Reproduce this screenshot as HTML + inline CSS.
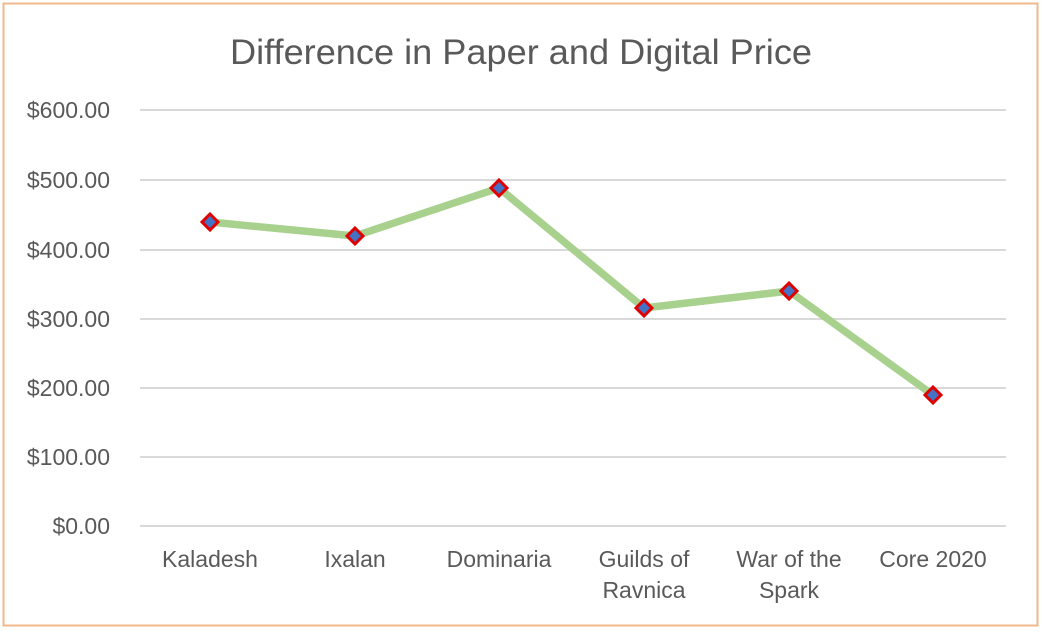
<!DOCTYPE html>
<html><head><style>
body{margin:0;background:#fff;}
svg text{font-family:"Liberation Sans",sans-serif;}
</style></head><body>
<svg width="1042" height="630" xmlns="http://www.w3.org/2000/svg">
<rect x="0" y="0" width="1042" height="630" fill="#fff"/>
<rect x="3.5" y="3.5" width="1034" height="622" fill="none" stroke="#f0b88c" stroke-width="2"/>
<text x="230" y="64" textLength="582" lengthAdjust="spacingAndGlyphs" font-size="35" fill="#595959">Difference in Paper and Digital Price</text>
<g stroke="#d9d9d9" stroke-width="2">
<line x1="140" x2="1006" y1="110" y2="110"/>
<line x1="140" x2="1006" y1="180" y2="180"/>
<line x1="140" x2="1006" y1="250" y2="250"/>
<line x1="140" x2="1006" y1="319" y2="319"/>
<line x1="140" x2="1006" y1="388" y2="388"/>
<line x1="140" x2="1006" y1="457" y2="457"/>
<line x1="140" x2="1006" y1="526" y2="526"/>
</g>
<g font-size="23" fill="#595959" text-anchor="end">
<text x="110" y="118">$600.00</text>
<text x="110" y="188">$500.00</text>
<text x="110" y="258">$400.00</text>
<text x="110" y="327">$300.00</text>
<text x="110" y="396">$200.00</text>
<text x="110" y="465">$100.00</text>
<text x="110" y="534">$0.00</text>
</g>
<g font-size="23" fill="#595959" text-anchor="middle">
<text x="210" y="567">Kaladesh</text>
<text x="355" y="567">Ixalan</text>
<text x="499" y="567">Dominaria</text>
<text x="644" y="567">Guilds of</text>
<text x="644" y="598">Ravnica</text>
<text x="789" y="567">War of the</text>
<text x="789" y="598">Spark</text>
<text x="933" y="567">Core 2020</text>
</g>
<polyline points="210,222 355,236 499,188 644,308 789,291 933,395" fill="none" stroke="#a9d18e" stroke-width="7.5" stroke-linejoin="round"/>
<g fill="#4472c4" stroke="#e00000" stroke-width="3">
<path d="M210,214 l8,8 l-8,8 l-8,-8z"/>
<path d="M355,228 l8,8 l-8,8 l-8,-8z"/>
<path d="M499,180 l8,8 l-8,8 l-8,-8z"/>
<path d="M644,300 l8,8 l-8,8 l-8,-8z"/>
<path d="M789,283 l8,8 l-8,8 l-8,-8z"/>
<path d="M933,387 l8,8 l-8,8 l-8,-8z"/>
</g>
</svg>
</body></html>
